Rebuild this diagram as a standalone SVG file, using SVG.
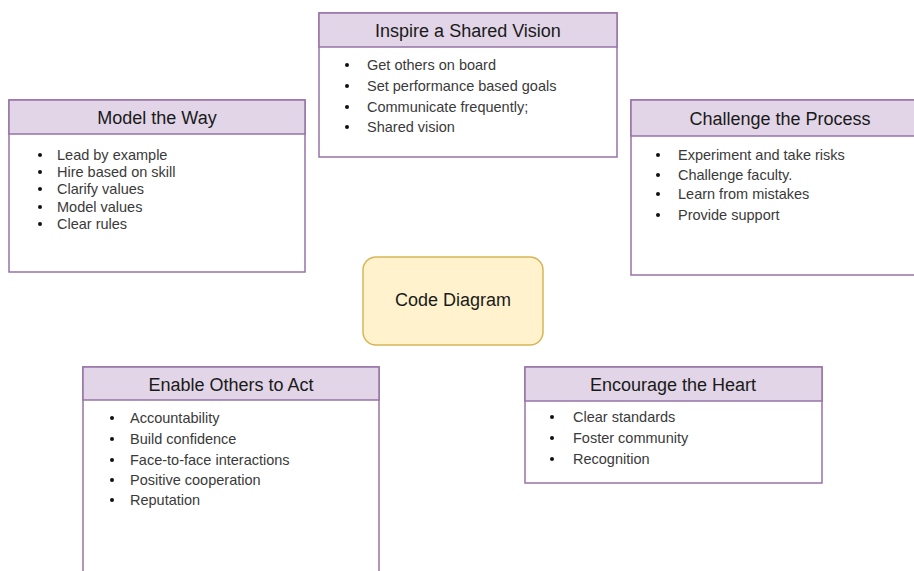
<svg xmlns="http://www.w3.org/2000/svg" width="914" height="571" viewBox="0 0 914 571">
  <style>
    .box { fill: #ffffff; stroke: #9673a6; stroke-width: 1.5; }
    .head { fill: #e1d5e7; stroke: #9673a6; stroke-width: 1.5; }
    .title { font-family: "Liberation Sans", Arial, sans-serif; font-size: 18px; fill: #1a1a1a; text-anchor: middle; }
    .item { font-family: "Liberation Sans", Arial, sans-serif; font-size: 14.5px; fill: #3a3a3a; }
    .dot { fill: #111111; }
    .core { fill: #fff2cc; stroke: #d6b656; stroke-width: 1.5; }
  </style>
  <rect width="914" height="571" fill="#ffffff"/>

  <g id="connectors"></g>

  <!-- Model the Way -->
  <g id="model-the-way">
    <rect class="box" x="9" y="100" width="296" height="172"/>
    <rect class="head" x="9" y="100" width="296" height="34"/>
    <text class="title" x="157" y="124">Model the Way</text>
    <circle class="dot" cx="40" cy="155" r="2"/>
    <circle class="dot" cx="40" cy="172" r="2"/>
    <circle class="dot" cx="40" cy="189" r="2"/>
    <circle class="dot" cx="40" cy="207" r="2"/>
    <circle class="dot" cx="40" cy="224" r="2"/>
    <text class="item" x="57" y="160">Lead by example</text>
    <text class="item" x="57" y="177">Hire based on skill</text>
    <text class="item" x="57" y="194">Clarify values</text>
    <text class="item" x="57" y="212">Model values</text>
    <text class="item" x="57" y="229">Clear rules</text>
  </g>

  <!-- Inspire a Shared Vision -->
  <g id="inspire-vision">
    <rect class="box" x="319" y="13" width="298" height="144"/>
    <rect class="head" x="319" y="13" width="298" height="34"/>
    <text class="title" x="468" y="37">Inspire a Shared Vision</text>
    <circle class="dot" cx="347" cy="65" r="2"/>
    <circle class="dot" cx="347" cy="86" r="2"/>
    <circle class="dot" cx="347" cy="107" r="2"/>
    <circle class="dot" cx="347" cy="127" r="2"/>
    <text class="item" x="367" y="70">Get others on board</text>
    <text class="item" x="367" y="91">Set performance based goals</text>
    <text class="item" x="367" y="112">Communicate frequently;</text>
    <text class="item" x="367" y="132">Shared vision</text>
  </g>

  <!-- Challenge the Process -->
  <g id="challenge-process">
    <rect class="box" x="631" y="100" width="300" height="175"/>
    <rect class="head" x="631" y="100" width="300" height="36"/>
    <text class="title" x="780" y="125">Challenge the Process</text>
    <circle class="dot" cx="658" cy="155" r="2"/>
    <circle class="dot" cx="658" cy="175" r="2"/>
    <circle class="dot" cx="658" cy="194" r="2"/>
    <circle class="dot" cx="658" cy="215" r="2"/>
    <text class="item" x="678" y="160">Experiment and take risks</text>
    <text class="item" x="678" y="180">Challenge faculty.</text>
    <text class="item" x="678" y="199">Learn from mistakes</text>
    <text class="item" x="678" y="220">Provide support</text>
  </g>

  <!-- Code Diagram -->
  <g id="code-diagram">
    <rect class="core" x="363" y="257" width="180" height="88" rx="13" ry="13"/>
    <text class="title" x="453" y="306">Code Diagram</text>
  </g>

  <!-- Enable Others to Act -->
  <g id="enable-others">
    <rect class="box" x="83" y="367" width="296" height="230"/>
    <rect class="head" x="83" y="367" width="296" height="33"/>
    <text class="title" x="231" y="391">Enable Others to Act</text>
    <circle class="dot" cx="112" cy="418" r="2"/>
    <circle class="dot" cx="112" cy="439" r="2"/>
    <circle class="dot" cx="112" cy="460" r="2"/>
    <circle class="dot" cx="112" cy="480" r="2"/>
    <circle class="dot" cx="112" cy="500" r="2"/>
    <text class="item" x="130" y="423">Accountability</text>
    <text class="item" x="130" y="444">Build confidence</text>
    <text class="item" x="130" y="465">Face-to-face interactions</text>
    <text class="item" x="130" y="485">Positive cooperation</text>
    <text class="item" x="130" y="505">Reputation</text>
  </g>

  <!-- Encourage the Heart -->
  <g id="encourage-heart">
    <rect class="box" x="525" y="367" width="297" height="116"/>
    <rect class="head" x="525" y="367" width="297" height="34"/>
    <text class="title" x="673" y="391">Encourage the Heart</text>
    <circle class="dot" cx="552" cy="417" r="2"/>
    <circle class="dot" cx="552" cy="438" r="2"/>
    <circle class="dot" cx="552" cy="459" r="2"/>
    <text class="item" x="573" y="422">Clear standards</text>
    <text class="item" x="573" y="443">Foster community</text>
    <text class="item" x="573" y="464">Recognition</text>
  </g>
</svg>
